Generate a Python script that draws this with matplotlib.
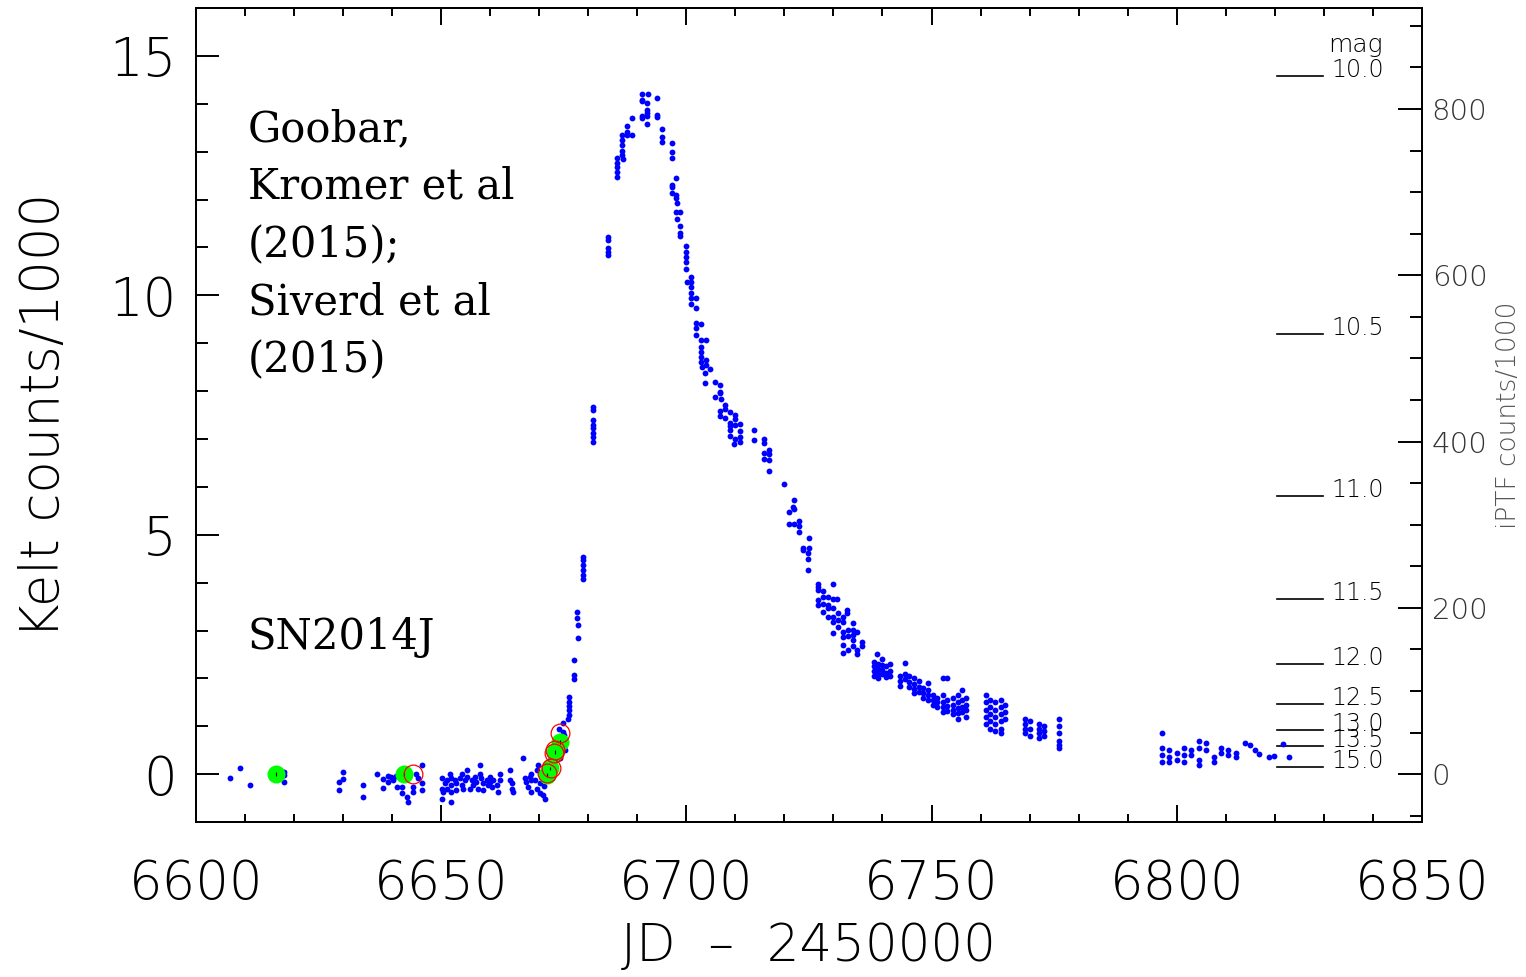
import numpy as np
import matplotlib.pyplot as plt
from matplotlib.ticker import MultipleLocator

# KELT light curve of SN2014J, x = JD - 2450000, y = counts/1000
base_jd = [6607.0, 6609.0, 6611.0, 6618.0, 6618.0, 6618.0, 6629.1, 6629.1, 6629.9, 6629.9,
           6634.0, 6634.0, 6637.0, 6638.1, 6638.1, 6639.1, 6639.1, 6639.8, 6640.1, 6640.8,
           6641.1, 6642.1, 6642.1, 6643.0, 6643.2, 6644.2, 6644.2, 6644.9, 6645.2, 6646.1,
           6646.1, 6646.1, 6642.6, 6643.5,
           6650.1, 6650.1, 6650.4, 6650.8, 6651.1, 6651.1, 6651.8, 6652.1, 6652.1, 6652.1,
           6652.8, 6653.1, 6653.1, 6653.8, 6654.2, 6654.2, 6654.5, 6654.8, 6655.2, 6655.2,
           6655.9, 6656.2, 6656.5, 6656.9, 6657.2, 6657.6, 6657.9, 6657.9, 6658.2, 6658.6,
           6658.6, 6659.3, 6659.6, 6659.9, 6659.9, 6660.3, 6660.6, 6661.3, 6661.6, 6662.0,
           6662.0, 6664.0, 6664.0, 6664.4, 6664.4, 6664.7, 6666.7, 6667.1, 6667.4, 6667.8,
           6668.1, 6668.4, 6668.4, 6668.4, 6669.1, 6669.5, 6669.5, 6669.8, 6670.1, 6670.1,
           6670.8, 6671.2, 6650.1, 6652.1]
base_flux = [-0.08, 0.12, -0.22, 0.05, -0.02, -0.16, -0.16, -0.33, 0.05, -0.11,
             -0.22, -0.47, 0.00, -0.11, -0.29, -0.04, -0.16, -0.06, -0.13, -0.04,
             -0.26, -0.27, -0.40, -0.47, -0.58, -0.27, -0.37, 0.01, -0.09, 0.19,
             -0.19, -0.33, -0.10, -0.05,
             -0.09, -0.30, -0.37, -0.19, -0.13, -0.30, 0.01, -0.09, -0.23, -0.37,
             -0.13, -0.19, -0.33, -0.09, 0.01, -0.23, -0.30, -0.13, 0.08, -0.06,
             -0.30, -0.13, -0.23, -0.06, -0.16, -0.30, 0.19, 0.01, -0.09, -0.19,
             -0.33, -0.13, -0.23, -0.06, -0.16, -0.26, -0.13, -0.23, -0.37, 0.01,
             -0.13, 0.08, -0.13, -0.19, -0.30, -0.37, 0.33, -0.09, -0.16, -0.26,
             -0.06, 0.01, -0.13, -0.37, -0.13, 0.08, -0.30, 0.19, -0.19, -0.40,
             -0.44, -0.51, -0.51, -0.58]

rise_jd = [6671.0, 6671.3, 6671.6, 6672.0, 6672.2, 6672.5, 6672.8, 6673.0, 6673.4, 6673.6,
           6673.9, 6674.2, 6674.4, 6674.1, 6674.9, 6674.9, 6675.0, 6675.2, 6674.2,
           6675.9, 6676.0, 6676.0, 6676.1, 6676.1, 6676.1, 6677.0, 6677.1, 6677.1,
           6678.0, 6678.0, 6677.8, 6677.8,
           6678.9, 6678.9, 6678.9, 6679.0, 6679.0, 6679.0,
           6680.9, 6681.0, 6680.9, 6681.0, 6680.9, 6680.9, 6681.0, 6681.0]
rise_flux = [-0.25, 0.05, 0.20, -0.10, 0.30, 0.05, 0.40, 0.25, 0.60, 0.35,
             0.55, 0.45, 0.75, 0.95, 0.88, 1.06, 0.81, 0.50, 0.33,
             1.15, 1.23, 1.34, 1.42, 1.51, 1.61, 2.07, 1.98, 2.38,
             2.85, 3.11, 3.27, 3.38,
             4.07, 4.16, 4.26, 4.37, 4.47, 4.54,
             6.94, 7.05, 7.12, 7.22, 7.29, 7.40, 7.60, 7.67]

peak_jd = [6683.95, 6683.95, 6683.95, 6683.95, 6684.1, 6685.9, 6685.9, 6685.9, 6685.9, 6685.9,
           6686.9, 6686.9, 6686.9, 6686.9, 6686.9, 6687.1, 6688.0, 6688.0, 6687.8, 6688.85,
           6689.0, 6690.9, 6692.1, 6690.9, 6690.9, 6691.9, 6690.9, 6690.9, 6692.0, 6692.0,
           6692.0, 6692.0, 6693.95, 6693.95, 6693.95, 6694.96, 6694.96, 6694.96, 6697.0, 6697.0,
           6697.0, 6697.9, 6697.0, 6697.0, 6697.0, 6697.9, 6697.9, 6698.0, 6697.9, 6698.8,
           6698.0, 6698.8, 6698.8, 6698.8, 6699.9, 6699.9, 6699.9, 6699.9, 6699.9, 6700.1,
           6700.9, 6700.9, 6700.9, 6700.9, 6700.9, 6700.9, 6701.9, 6701.9, 6701.9, 6701.9,
           6701.9, 6702.9, 6702.9, 6702.9, 6702.9, 6702.9, 6702.9, 6703.1, 6704.0, 6704.0,
           6704.0, 6703.8, 6704.8]
peak_flux = [11.22, 11.16, 10.98, 10.91, 10.84, 12.86, 12.76, 12.67, 12.58, 12.48,
             13.35, 13.24, 13.14, 13.02, 12.93, 12.85, 13.54, 13.42, 13.35, 13.70,
             13.35, 14.21, 14.21, 14.08, 14.05, 14.01, 13.75, 13.70, 13.87, 13.80,
             13.75, 13.57, 14.12, 13.77, 13.72, 13.47, 13.30, 13.20, 13.19, 13.00,
             12.86, 12.46, 12.30, 12.27, 12.14, 12.10, 12.03, 11.92, 11.75, 11.75,
             11.59, 11.45, 11.31, 11.23, 11.02, 10.91, 10.81, 10.70, 10.56, 10.28,
             10.39, 10.28, 10.18, 10.04, 9.94, 9.82, 9.94, 9.73, 9.43, 9.31,
             9.17, 9.41, 9.07, 8.93, 8.82, 8.72, 8.61, 8.51, 9.07, 8.65,
             8.54, 8.37, 8.46]

decl_jd = [6703.8, 6705.8, 6706.8, 6706.8, 6706.8, 6705.8, 6707.0, 6707.9, 6707.9, 6706.8,
           6706.8, 6707.9, 6709.0, 6710.0, 6709.9, 6708.9, 6708.9, 6709.9, 6710.9, 6708.9,
           6710.9, 6708.9, 6709.9, 6710.9, 6710.9, 6709.8, 6713.8, 6713.8, 6715.8, 6715.8,
           6716.9, 6716.9, 6715.8, 6715.8, 6716.9, 6716.9, 6719.9, 6721.9, 6721.8, 6721.9,
           6720.9, 6720.9, 6721.9, 6722.9, 6722.9, 6722.9, 6725.0, 6723.8, 6723.8, 6725.0,
           6724.9, 6724.9, 6724.9, 6726.9, 6726.9, 6726.9, 6730.0, 6727.9, 6727.9, 6726.9,
           6726.9, 6727.9, 6727.9, 6728.9, 6728.9, 6728.9, 6730.0, 6730.0, 6730.8, 6728.9,
           6730.0, 6730.0, 6731.0, 6731.0, 6731.0, 6732.0, 6732.0, 6732.8, 6732.8, 6732.0,
           6732.0, 6730.0, 6733.0, 6733.0, 6733.9, 6733.9, 6733.9, 6734.9, 6733.9, 6733.9,
           6731.9, 6731.9, 6733.0, 6734.9, 6734.9, 6735.9, 6735.9, 6738.8]
decl_flux = [8.16, 8.18, 8.13, 7.99, 7.95, 7.88, 7.83, 7.71, 7.62, 7.59,
             7.49, 7.43, 7.57, 7.50, 7.41, 7.34, 7.27, 7.29, 7.31, 7.19,
             7.17, 7.06, 7.00, 7.05, 6.93, 6.89, 7.19, 6.98, 6.99, 6.92,
             6.78, 6.69, 6.70, 6.59, 6.56, 6.34, 6.05, 5.72, 5.58, 5.53,
             5.48, 5.22, 5.23, 5.29, 5.18, 5.06, 4.94, 4.73, 4.68, 4.73,
             4.62, 4.50, 4.27, 3.98, 3.91, 3.84, 3.98, 3.83, 3.70, 3.63,
             3.53, 3.56, 3.39, 3.70, 3.53, 3.46, 3.65, 3.46, 3.65, 3.29,
             3.29, 3.18, 3.36, 3.22, 3.08, 3.29, 3.18, 3.43, 3.36, 2.97,
             2.87, 2.94, 3.01, 2.88, 3.15, 3.01, 2.90, 2.97, 2.80, 2.67,
             2.69, 2.52, 2.59, 2.60, 2.51, 2.76, 2.67, 2.51]

tail_jd = [6738.3, 6738.3, 6738.3, 6738.3, 6739.0, 6739.0, 6739.0, 6739.0, 6740.0, 6740.0,
           6740.0, 6740.0, 6740.8, 6740.8, 6740.8, 6741.6, 6741.6, 6741.6,
           6743.5, 6743.5, 6743.5, 6744.6, 6744.6, 6744.6, 6745.5, 6745.5, 6745.5,
           6746.5, 6746.5, 6746.5, 6746.5, 6747.4, 6747.4, 6747.4, 6748.3, 6748.3, 6748.3,
           6749.3, 6749.3, 6749.3, 6749.3, 6750.3, 6750.3, 6750.3, 6751.2, 6751.2, 6751.2,
           6752.3, 6752.3, 6752.3, 6752.3, 6752.3, 6753.2, 6753.2, 6753.2, 6753.2,
           6754.3, 6754.3, 6754.3, 6754.3, 6755.3, 6755.3, 6755.3, 6755.3, 6755.3,
           6756.2, 6756.2, 6756.2, 6756.2, 6757.0, 6757.0, 6757.0, 6757.0,
           6761.2, 6761.2, 6761.2, 6761.2, 6761.2, 6762.0, 6762.0, 6762.0, 6762.0, 6762.0,
           6763.0, 6763.0, 6763.0, 6763.0, 6763.0, 6764.2, 6764.2, 6764.2, 6764.2, 6764.2,
           6764.2, 6765.0, 6765.0, 6765.0,
           6769.0, 6769.0, 6769.0, 6769.0, 6770.0, 6770.0, 6770.0, 6772.0, 6772.0, 6772.0,
           6772.0, 6773.0, 6773.0, 6773.0, 6776.0, 6776.0, 6776.0, 6776.0, 6776.0, 6776.0,
           6797.0, 6797.0, 6797.0, 6797.0, 6798.5, 6798.5, 6798.5, 6800.0, 6800.0,
           6801.5, 6801.5, 6801.5, 6803.0, 6803.0, 6804.5, 6804.5, 6804.5, 6804.5,
           6806.0, 6806.0, 6807.5, 6807.5, 6809.0, 6809.0, 6810.5, 6810.5, 6812.0, 6812.0,
           6814.0, 6814.9, 6815.9, 6816.8, 6818.8, 6819.8, 6821.7, 6822.9]
tail_flux = [2.35, 2.25, 2.15, 2.05, 2.30, 2.20, 2.10, 2.00, 2.40, 2.28,
             2.18, 2.10, 2.25, 2.12, 2.02, 2.30, 2.15, 2.05,
             2.05, 1.95, 1.85, 2.32, 2.10, 1.98, 2.05, 1.92, 1.82,
             2.00, 1.88, 1.78, 1.70, 1.95, 1.82, 1.72, 1.80, 1.70, 1.60,
             1.90, 1.75, 1.65, 1.55, 1.65, 1.55, 1.45, 1.60, 1.50, 1.40,
             2.00, 1.65, 1.50, 1.40, 1.30, 2.00, 1.55, 1.42, 1.32,
             1.60, 1.45, 1.35, 1.25, 1.65, 1.50, 1.38, 1.28, 1.15,
             1.75, 1.55, 1.40, 1.30, 1.60, 1.45, 1.35, 1.20,
             1.65, 1.50, 1.35, 1.20, 1.05, 1.55, 1.40, 1.25, 1.10, 0.95,
             1.50, 1.35, 1.20, 1.05, 0.90, 1.55, 1.40, 1.25, 1.10, 0.95,
             0.85, 1.45, 1.30, 1.15,
             1.15, 1.05, 0.95, 0.85, 1.10, 0.95, 0.80, 1.05, 0.95, 0.85,
             0.75, 1.00, 0.90, 0.80, 1.15, 1.00, 0.85, 0.70, 0.60, 0.55,
             0.85, 0.55, 0.40, 0.25, 0.50, 0.35, 0.25, 0.45, 0.30,
             0.55, 0.40, 0.25, 0.50, 0.40, 0.70, 0.55, 0.30, 0.20,
             0.65, 0.50, 0.35, 0.25, 0.55, 0.45, 0.50, 0.40, 0.45, 0.35,
             0.65, 0.61, 0.50, 0.43, 0.35, 0.38, 0.63, 0.35]

# iPTF early points (green) and open red circles
iptf_jd = [6616.3, 6642.5, 6671.5, 6672.2, 6673.2, 6674.2]
iptf_flux = [0.00, 0.00, -0.02, 0.12, 0.47, 0.68]
open_jd = [6644.2, 6671.6, 6672.4, 6673.1, 6673.3, 6674.2]
open_flux = [0.00, 0.03, 0.13, 0.45, 0.50, 0.85]

# magnitude scale on the right
mag_levels = [10.0, 10.5, 11.0, 11.5, 12.0, 12.5, 13.0, 13.5, 15.0]
mag10_flux = 14.58   # kelt counts/1000 at mag 10

sans = ['DejaVu Sans']
serif = ['DejaVu Serif']

fig = plt.figure(figsize=(15.26, 9.77), dpi=100)
ax = fig.add_axes([0.1284, 0.1586, 0.8034, 0.8332])

jd = np.concatenate([base_jd, rise_jd, peak_jd, decl_jd, tail_jd])
flux = np.concatenate([base_flux, rise_flux, peak_flux, decl_flux, tail_flux])
ax.plot(jd, flux, 'o', color='#0000ff', markersize=4.2, markeredgewidth=0, zorder=3)

ax.plot(iptf_jd, iptf_flux, 'o', color='#00ff00', markersize=13, markeredgewidth=0, zorder=4)
ax.errorbar(iptf_jd, iptf_flux, yerr=0.04, fmt='none', ecolor='black', elinewidth=0.8, zorder=5)
ax.plot(open_jd, open_flux, 'o', markerfacecolor='none', markeredgecolor='red',
        markersize=13.5, markeredgewidth=0.9, zorder=6)

ax.set_xlim(6600, 6850)
ax.set_ylim(-1, 16)
ax.xaxis.set_major_locator(MultipleLocator(50))
ax.xaxis.set_minor_locator(MultipleLocator(10))
ax.yaxis.set_major_locator(MultipleLocator(5))
ax.yaxis.set_minor_locator(MultipleLocator(1))
ax.tick_params(axis='x', which='both', direction='in', top=True, bottom=True, width=1.4, pad=26)
ax.tick_params(axis='x', which='major', length=12)
ax.tick_params(axis='x', which='minor', length=5.8)
ax.tick_params(axis='y', which='both', direction='in', left=True, right=False, width=1.4, pad=14)
ax.tick_params(axis='y', which='major', length=16.5)
ax.tick_params(axis='y', which='minor', length=8.6)
for lab in ax.get_xticklabels() + ax.get_yticklabels():
    lab.set_family(sans)
    lab.set_fontsize(38)
    lab.set_fontweight('light')
for s in ax.spines.values():
    s.set_linewidth(1.4)

ax.set_xlabel('JD  \u2013  2450000', family=sans, fontsize=37, fontweight='light', labelpad=8)
ax.set_ylabel('Kelt counts/1000', family=sans, fontsize=38, fontweight='light', labelpad=28)

# right axis in iPTF units
ax2 = ax.twinx()
scale = 800 / 13.89
ax2.set_ylim(-1 * scale, 16 * scale)
ax2.yaxis.set_major_locator(MultipleLocator(200))
ax2.yaxis.set_minor_locator(MultipleLocator(50))
ax2.tick_params(axis='y', which='both', direction='in', width=1.4, pad=7, colors='black',
                labelcolor='#333333')
ax2.tick_params(axis='y', which='major', length=17)
ax2.tick_params(axis='y', which='minor', length=8.6)
for lab in ax2.get_yticklabels():
    lab.set_family(sans)
    lab.set_fontsize(21)
    lab.set_fontweight('light')
ax2.set_ylabel('iPTF counts/1000', family=sans, fontsize=19, fontweight='light',
               color='#555555', labelpad=6)
for s in ax2.spines.values():
    s.set_linewidth(1.4)

# magnitude marks
ytrans = ax.get_yaxis_transform()
for m in mag_levels:
    y = mag10_flux * 10 ** (-0.4 * (m - 10.0))
    ax.plot([0.882, 0.919], [y, y], color='black', lw=1.2, transform=ytrans, zorder=2)
    ax.annotate('%.1f' % m, xy=(0.969, y), xycoords=ytrans,
                xytext=(0, 6), textcoords='offset pixels', ha='right', va='center',
                family=sans, fontsize=17, fontweight='light', color='black')
ax.text(0.968, 0.955, 'mag', transform=ax.transAxes, ha='right', va='center',
        family=sans, fontsize=18, fontweight='light')

ax.text(0.0424, 0.877, 'Goobar,\nKromer et al\n(2015);\nSiverd et al\n(2015)',
        transform=ax.transAxes, ha='left', va='top', family=serif, fontsize=30,
        linespacing=1.48)
ax.text(0.0424, 0.227, 'SN2014J', transform=ax.transAxes, ha='left', va='center',
        family=serif, fontsize=30)

fig.savefig('out.png', dpi=100)
